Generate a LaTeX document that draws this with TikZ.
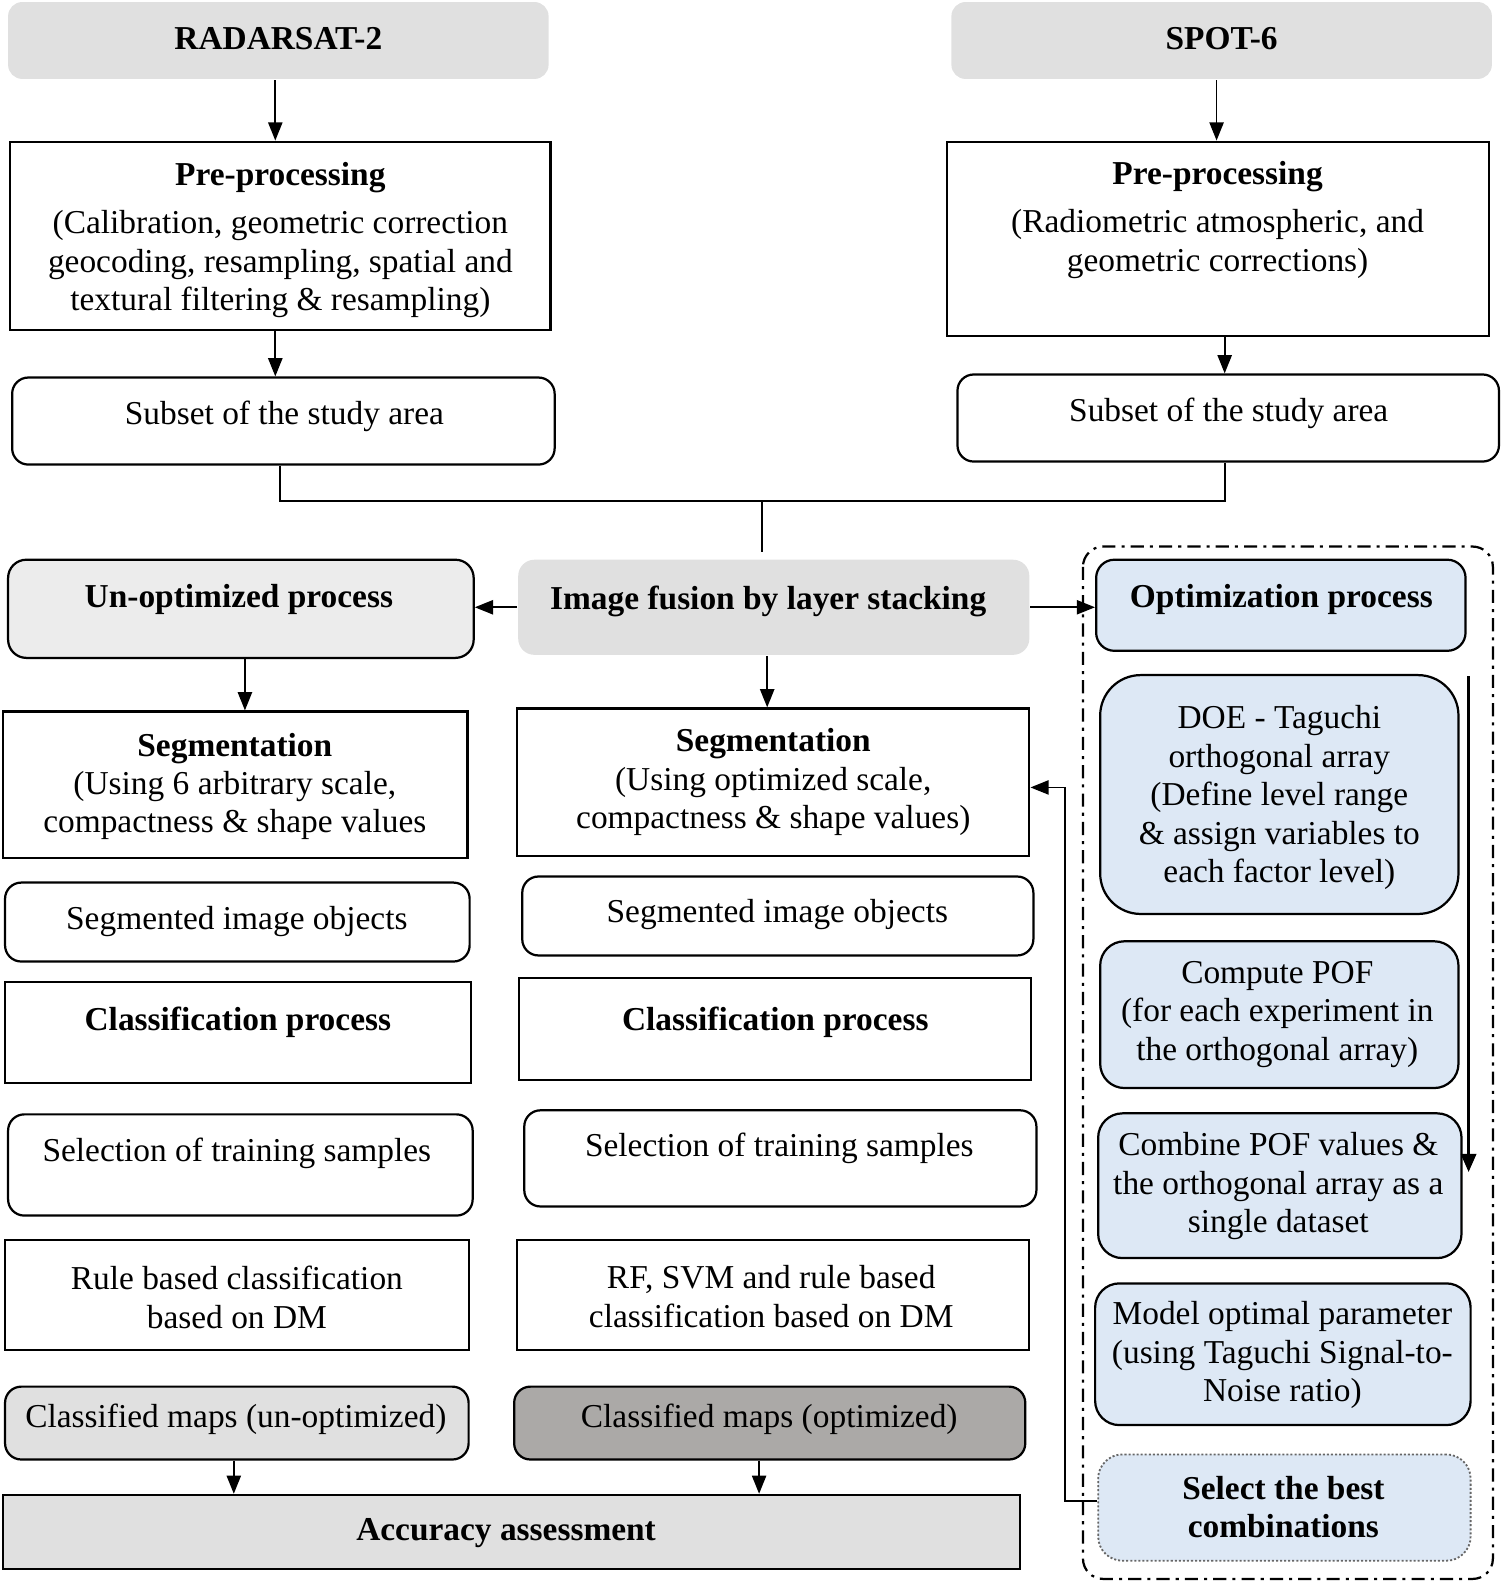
\documentclass[tikz,border=0pt]{standalone}
\usepackage{fontspec}
\setmainfont{Liberation Serif}
\usetikzlibrary{arrows.meta}
\definecolor{gfill}{HTML}{E0E0E0}
\definecolor{lgfill}{HTML}{ECECEC}
\definecolor{dgfill}{HTML}{ABA9A7}
\definecolor{bfill}{HTML}{DDE8F5}
\begin{document}
\begin{tikzpicture}[x=1pt,y=-1pt,
  sq/.style={draw=black, line width=2.2pt, fill=white, inner sep=0pt, rectangle},
  rnd/.style={sq, rounded corners=16pt},
  sz/.style 2 args={minimum width=#1pt, minimum height=#2pt},
  txt/.style={align=center, inner sep=0pt, font=\fontsize{33}{38}\selectfont},
  arr/.style={line width=1.8pt, -{Triangle[length=18pt,width=14pt]}},
  ln/.style={line width=1.8pt},
  blue/.style={rnd, fill=bfill}
]
\useasboundingbox (0,0) rectangle (1487,1567);

% top sources
\node[sq, fill=gfill, draw=none, rounded corners=14pt, sz={534}{76}] (radar) at (275,40) {};
\node[txt] (tradar) at (275,38) {\textbf{RADARSAT-2}};
\node[sq, fill=gfill, draw=none, rounded corners=14pt, sz={534}{76}] (spot) at (1207,40) {};
\node[txt] (tspot) at (1207,38) {\textbf{SPOT-6}};

% pre-processing
\node[sq, sz={534}{186}] (ppL) at (277,233) {};
\node[txt] (tppL) at (277,237) {\textbf{Pre-processing}\\[10pt](Calibration, geometric correction\\geocoding, resampling, spatial and\\textural filtering \& resampling)};
\node[sq, sz={535}{192}] (ppR) at (1203.5,236) {};
\node[txt] (tppR) at (1203,217) {\textbf{Pre-processing}\\[10pt](Radiometric atmospheric, and\\geometric corrections)};

\draw[arr] (radar.south -| 272,0) -- (ppL.north -| 272,0);
\draw[arr] (spot.south -| 1202,0) -- (ppR.north -| 1202,0);

% subsets
\node[rnd, sz={536}{86}] (subL) at (280,416) {};
\node[txt] (tsubL) at (281,411) {Subset of the study area};
\node[rnd, sz={535}{86}] (subR) at (1213.5,413) {};
\node[txt] (tsubR) at (1214,408) {Subset of the study area};

\draw[arr] (ppL.south -| 272,0) -- (subL.north -| 272,0);
\draw[arr] (ppR.south -| 1210,0) -- (subR.north -| 1210,0);

% join
\coordinate (jL) at (277,495);
\coordinate (jR) at (1210,495);
\coordinate (jM) at (753,495);
\draw[ln] (subL.south -| jL) -- (jL) -- (jR) -- (subR.south -| jR);

% fusion row
\node[sq, fill=lgfill, rounded corners=18pt, sz={460}{97}] (unopt) at (238,601.5) {};
\node[txt] (tunopt) at (236,592) {\textbf{Un-optimized process}};
\node[sq, fill=gfill, draw=none, rounded corners=16pt, sz={505}{94}] (fus) at (764.5,600) {};
\node[txt] (tfus) at (759,594) {\textbf{Image fusion by layer stacking}};
\node[blue, rounded corners=18pt, sz={365}{90}] (opt) at (1265.5,598) {};
\node[txt] (topt) at (1266,592) {\textbf{Optimization process}};

\draw[ln, shorten >=7pt] (jM) -- (fus.north -| jM);
\draw[arr] (fus.west) -- (unopt.east |- fus.west);
\draw[arr] (fus.east) -- (opt.west |- fus.east);

% dash-dot frame
\draw[line width=2.2pt, dash pattern=on 13pt off 6pt on 3pt off 6pt, rounded corners=20pt] (1070,540) rectangle (1475,1560);

% left column
\node[sq, sz={459}{145}] (segL) at (232.5,775.5) {};
\node[txt] (tsegL) at (232,777) {\textbf{Segmentation}\\(Using 6 arbitrary scale,\\compactness \& shape values};
\draw[arr] (unopt.south -| 242,0) -- (segL.north -| 242,0);

\node[rnd, sz={459}{78}] (objL) at (234.5,911) {};
\node[txt] (tobjL) at (234,910) {Segmented image objects};
\node[sq, sz={460}{100}] (clsL) at (235,1020) {};
\node[txt] (tclsL) at (235,1010) {\textbf{Classification process}};
\node[rnd, sz={459}{100}] (selL) at (237.5,1151) {};
\node[txt] (tselL) at (234,1140) {Selection of training samples};
\node[sq, sz={458}{109}] (ruleL) at (234,1279.5) {};
\node[txt] (truleL) at (234,1282) {Rule based classification\\based on DM};
\node[rnd, fill=gfill, sz={458}{72}] (mapL) at (234,1406) {};
\node[txt] (tmapL) at (233,1402) {Classified maps (un-optimized)};

% middle column
\node[sq, sz={506}{146}] (segM) at (764,773) {};
\node[txt] (tsegM) at (764,773) {\textbf{Segmentation}\\(Using optimized scale,\\compactness \& shape values)};
\draw[arr] (fus.south -| 758,0) -- (segM.north -| 758,0);

\node[rnd, sz={505}{78}] (objM) at (768.5,905) {};
\node[txt] (tobjM) at (768,904) {Segmented image objects};
\node[sq, sz={506}{101}] (clsM) at (766,1016.5) {};
\node[txt] (tclsM) at (766,1010) {\textbf{Classification process}};
\node[rnd, sz={506}{95}] (selM) at (771,1144.5) {};
\node[txt] (tselM) at (770,1135) {Selection of training samples};
\node[sq, sz={506}{109}] (rfM) at (764,1279.5) {};
\node[txt] (trfM) at (762,1281) {RF, SVM and rule based\\classification based on DM};
\node[rnd, fill=dgfill, sz={505}{72}] (mapM) at (760.5,1406) {};
\node[txt] (tmapM) at (760,1402) {Classified maps (optimized)};

% accuracy
\node[sq, fill=gfill, sz={1005}{73}] (acc) at (505.5,1513.5) {};
\node[txt] (tacc) at (500,1515) {\textbf{Accuracy assessment}};
\draw[arr] (mapL.south -| 231,0) -- (acc.north -| 231,0);
\draw[arr] (mapM.south -| 750,0) -- (acc.north -| 750,0);

% right column
\node[blue, rounded corners=40pt, sz={354}{236}] (doe) at (1264,785) {};
\node[txt] (tdoe) at (1264,788) {DOE - Taguchi\\orthogonal array\\(Define level range\\\& assign variables to\\each factor level)};
\node[blue, rounded corners=24pt, sz={354}{145}] (pof) at (1264,1002.5) {};
\node[txt] (tpof) at (1262,1002) {Compute POF\\(for each experiment in\\the orthogonal array)};
\node[blue, rounded corners=24pt, sz={359}{143}] (comb) at (1264.5,1171.5) {};
\node[txt] (tcomb) at (1263,1172) {Combine POF values \&\\the orthogonal array as a\\single dataset};
\node[blue, rounded corners=24pt, sz={371}{140}] (model) at (1267.5,1338) {};
\node[txt] (tmodel) at (1267,1339) {Model optimal parameter\\(using Taguchi Signal-to-\\Noise ratio)};
\node[rnd, fill=bfill, draw=black!60, line width=1.8pt, dash pattern=on 2pt off 2pt, rounded corners=24pt, sz={368}{105}] (best) at (1269,1489.5) {};
\node[txt] (tbest) at (1268,1489) {\textbf{Select the best}\\\textbf{combinations}};

\coordinate (vA) at (1451,668);
\coordinate (vB) at (1451,1158);
\draw[line width=2.8pt, -{Triangle[length=18pt,width=15pt]}] (vA) -- (vB);

% feedback
\coordinate (fb1) at (1052,1483);
\coordinate (fb2) at (1052,778);
\draw[arr] (best.west |- fb1) -- (fb1) -- (fb2) -- (segM.east |- fb2);
\end{tikzpicture}
\end{document}
